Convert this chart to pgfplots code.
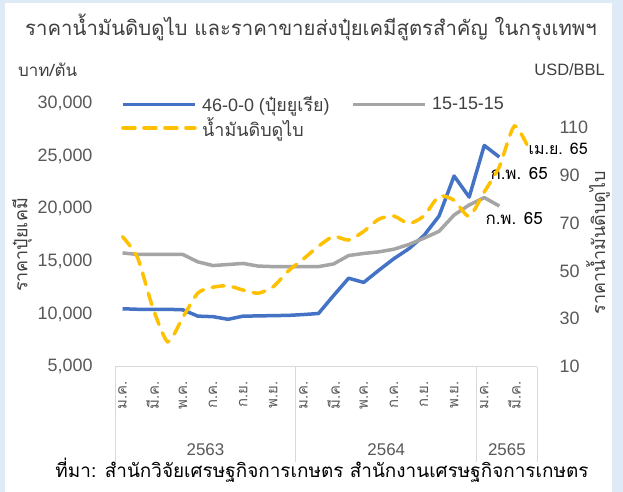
\documentclass[border=0pt]{standalone}
\usepackage{fontspec}
\usepackage{pgfplots}
\pgfplotsset{compat=1.18}
\setmainfont{Liberation Sans}
\newfontfamily\thai[Script=Thai]{Loma}
\definecolor{cblue}{HTML}{4472C4}
\definecolor{cgray}{HTML}{A5A5A5}
\definecolor{cyel}{HTML}{FFC000}
\definecolor{bgblue}{HTML}{DEEBF7}
\definecolor{txt}{HTML}{404040}
\definecolor{tickc}{HTML}{595959}
\definecolor{gridc}{HTML}{D9D9D9}
\newcommand{\fs}[1]{\fontsize{#1}{#1}\selectfont}
\pgfplotstableread{
i urea npk
0 10500 15800
1 10450 15650
2 10450 15650
3 10450 15650
4 10400 15650
5 9800 14950
6 9750 14600
7 9500 14700
8 9800 14800
9 9820 14550
10 9850 14500
11 9870 14500
12 9950 14500
13 10050 14500
14 11750 14750
15 13400 15550
16 13000 15750
17 14150 15900
18 15250 16150
19 16200 16600
20 17450 17200
21 19300 17850
22 23100 19400
23 21100 20350
24 26000 21050
25 24900 20250
}\fert
\pgfplotstableread{
i oil
0 64.3
1 55.5
2 34.8
3 20.4
4 30.6
5 40.8
6 43.2
7 43.8
8 42.0
9 40.7
10 43.4
11 50.0
12 55.0
13 60.3
14 64.4
15 62.9
16 66.5
17 71.6
18 72.9
19 69.8
20 73.0
21 81.2
22 79.5
23 72.8
24 83.0
25 93.5
26 110.5
27 100.5
}\oil
\begin{document}
\begin{tikzpicture}[x=1bp,y=1bp]
\fill[bgblue] (0,0) rectangle (623,-492);
\fill[white] (5,-3) rectangle (612,-492);
\useasboundingbox (0,0) rectangle (623,-492);
\node[font=\thai\fs{20.4}, text=txt, inner sep=0pt] at (311,-27) {ราคาน้ำมันดิบดูไบ และราคาขายส่งปุ๋ยเคมีสูตรสำคัญ ในกรุงเทพฯ};
\node[font=\thai\fs{17}, text=txt, inner sep=0pt, anchor=west] at (18,-70) {บาท/ตัน};
\node[font=\fs{16.5}, text=txt, inner sep=0pt, anchor=east] at (605,-70) {USD/BBL};
\node[font=\thai\fs{18}, text=txt, inner sep=0pt, rotate=90] at (22,-245) {ราคาปุ๋ยเคมี};
\node[font=\thai\fs{18}, text=txt, inner sep=0pt, rotate=90] at (598,-243) {ราคาน้ำมันดิบดูไบ};
\node[font=\thai\fs{19}, text=black, inner sep=0pt] at (322,-470) {ที่มา: สำนักวิจัยเศรษฐกิจการเกษตร สำนักงานเศรษฐกิจการเกษตร};

\begin{axis}[at={(115bp,-366.7bp)}, anchor=south west, scale only axis,
  width=422bp, height=263.4bp, clip=false,
  xmin=-0.5, xmax=27.5, ymin=5000, ymax=30000,
  ytick={5000,10000,...,30000},
  axis line style={draw=none}, major tick length=0pt,
  scaled y ticks=false,
  /pgf/number format/assume math mode=true,
  y tick label style={/pgf/number format/1000 sep={,}, font=\fs{18}, text=tickc},
  yticklabel shift=19bp,
  xtick={0,2,...,26},
  xticklabels={ม.ค.,มี.ค.,พ.ค.,ก.ค.,ก.ย.,พ.ย.,ม.ค.,มี.ค.,พ.ค.,ก.ค.,ก.ย.,พ.ย.,ม.ค.,มี.ค.},
  x tick label style={font=\thai\fs{15}, text=tickc, rotate=90, anchor=east},
  xticklabel shift=11bp,
  legend columns=2,
  legend cell align=left,
  legend image code/.code={\draw[#1] (0bp,0bp) -- (72bp,0bp);},
  legend style={at={(rel axis cs:0,1)}, anchor=north west, xshift=6bp, yshift=9bp,
    draw=none, fill=none, font=\fs{18}, text=txt, inner sep=0pt,
    nodes={inner sep=1.5pt}, row sep=2bp,
    /tikz/every odd column/.append style={column sep=4bp},
    /tikz/every even column/.append style={column sep=20bp}},
]
\addplot[cblue, line width=3.5bp, line join=round] table[x=i, y=urea] {\fert};
\addlegendentry{46-0-0 ({\thai ปุ๋ยยูเรีย})}
\addplot[cgray, line width=3.5bp, line join=round] table[x=i, y=npk] {\fert};
\addlegendentry{15-15-15}
\addlegendimage{cyel, line width=3.5bp, dash pattern=on 12bp off 9bp, line cap=round}
\addlegendentry{\thai น้ำมันดิบดูไบ}
\draw[gridc, line width=1bp] (axis cs:-0.5,5000) -- (axis cs:27.5,5000);
\draw[gridc, line width=1bp] (axis cs:-0.5,5000) -- ++(0pt,-95bp);
\draw[gridc, line width=1bp] (axis cs:11.5,5000) -- ++(0pt,-95bp);
\draw[gridc, line width=1bp] (axis cs:23.5,5000) -- ++(0pt,-95bp);
\draw[gridc, line width=1bp] (axis cs:27.5,5000) -- ++(0pt,-95bp);
\node[font=\fs{17}, text=tickc] at (axis cs:5.5,5000) [yshift=-83bp] {2563};
\node[font=\fs{17}, text=tickc] at (axis cs:17.5,5000) [yshift=-83bp] {2564};
\node[font=\fs{17}, text=tickc] at (axis cs:25.5,5000) [yshift=-83bp] {2565};
\node[font=\thai\fs{17}, text=black, inner sep=0pt, anchor=west] at (axis cs:25,24900) [xshift=-9bp, yshift=-16bp] {ก.พ. 65};
\node[font=\thai\fs{17}, text=black, inner sep=0pt, anchor=west] at (axis cs:25,20250) [xshift=-14bp, yshift=-12bp] {ก.พ. 65};
\end{axis}

\begin{axis}[at={(115bp,-366.7bp)}, anchor=south west, scale only axis,
  width=422bp, height=263.4bp, clip=false,
  xmin=-0.5, xmax=27.5, ymin=10, ymax=120,
  ytick={10,30,...,110}, xtick=\empty,
  yticklabel pos=right,
  axis line style={draw=none}, major tick length=0pt,
  /pgf/number format/assume math mode=true,
  y tick label style={font=\fs{18}, text=tickc},
  yticklabel shift=19bp,
]
\addplot[cyel, line width=3.5bp, dash pattern=on 12bp off 9bp, line cap=round, smooth, tension=0.4] table[x=i, y=oil] {\oil};
\node[font=\thai\fs{16}, text=black, inner sep=0pt, anchor=west] at (axis cs:27,100.5) [xshift=-1bp, yshift=1bp] {เม.ย. 65};
\end{axis}
\end{tikzpicture}
\end{document}
